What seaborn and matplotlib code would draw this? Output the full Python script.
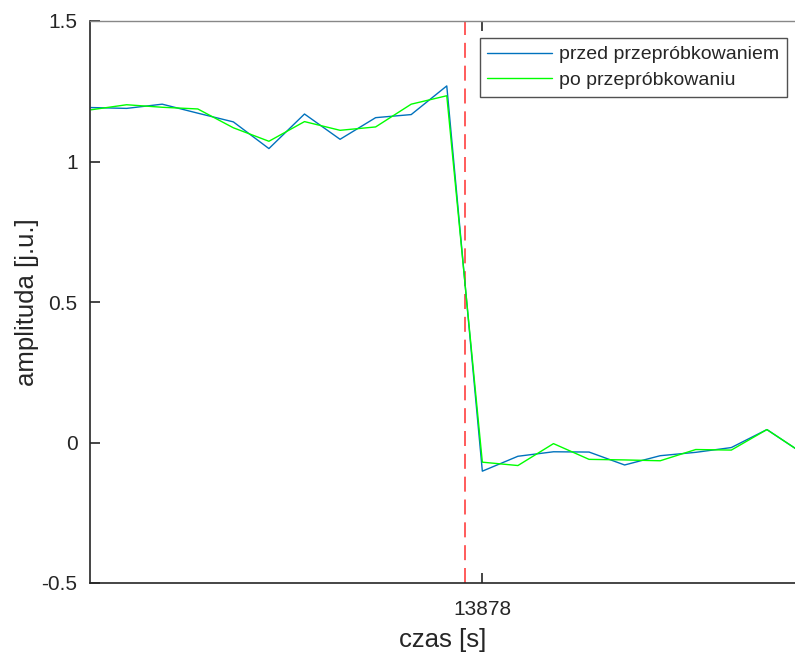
import numpy as np
import pandas as pd
import matplotlib
matplotlib.use("Agg")
import matplotlib.pyplot as plt
import seaborn as sns

# ---- data ----
time_s = list(range(13867, 13888))
before = [1.192, 1.189, 1.204, 1.172, 1.141, 1.046, 1.169, 1.079, 1.156, 1.167, 1.269,
          -0.102, -0.049, -0.033, -0.034, -0.080, -0.047, -0.035, -0.018, 0.046, -0.038]
after = [1.184, 1.202, 1.193, 1.187, 1.120, 1.072, 1.142, 1.111, 1.123, 1.204, 1.234,
         -0.070, -0.082, -0.004, -0.060, -0.062, -0.065, -0.025, -0.027, 0.046, -0.038]
series_names = ["przed przepróbkowaniem", "po przepróbkowaniu"]
marker_time = 13877.5
x_ticks = [13878]
y_ticks = [-0.5, 0, 0.5, 1, 1.5]
y_tick_labels = ["-0.5", "0", "0.5", "1", "1.5"]

df = pd.DataFrame({
    "czas": time_s * 2,
    "amplituda": before + after,
    "seria": [series_names[0]] * len(time_s) + [series_names[1]] * len(time_s),
})

sns.set_theme(style="white")
plt.rcParams["font.family"] = ["Liberation Sans", "DejaVu Sans"]

W, H = 795, 656
fig = plt.figure(figsize=(W / 100, H / 100), dpi=100)
ax = fig.add_axes([90 / W, (H - 583) / H, (W - 90) / W, (583 - 21) / H])

sns.lineplot(data=df, x="czas", y="amplituda", hue="seria",
             palette={series_names[0]: "#0072BD", series_names[1]: "#00FF00"},
             linewidth=1.0, ax=ax, legend=True, sort=False)

ax.axvline(marker_time, color="#FF4040", linestyle=(0, (9, 4.7)), linewidth=1.2, zorder=1)

ax.set_xlim(13866.97, 13886.79)
ax.set_ylim(-0.5, 1.5)
ax.set_xticks(x_ticks)
ax.set_xticklabels([str(t) for t in x_ticks])
ax.set_yticks(y_ticks)
ax.set_yticklabels(y_tick_labels)

for side in ["left", "bottom"]:
    ax.spines[side].set_color("#262626")
    ax.spines[side].set_linewidth(1.2)
ax.spines["top"].set_color("#888888")
ax.spines["top"].set_linewidth(1.0)
ax.spines["right"].set_visible(False)

ax.tick_params(axis="both", direction="in", length=7, width=1.2, colors="#262626",
               labelsize=15, labelcolor="#262626")
ax.tick_params(axis="x", top=True, bottom=True, pad=12)
ax.tick_params(axis="y", left=True, right=False, pad=9)

ax.set_xlabel("czas [s]", fontsize=18.5, color="#262626", labelpad=7)
ax.set_ylabel("amplituda [j.u.]", fontsize=18.5, color="#262626", labelpad=2)

leg = ax.legend(loc="upper right", bbox_to_anchor=(787 / W, 1 - 38 / H),
                bbox_transform=fig.transFigure, fontsize=14, frameon=True,
                fancybox=False, edgecolor="#262626", handlelength=3.35,
                handletextpad=0.34, borderpad=0.4, labelspacing=0.4,
                borderaxespad=0, title=None)
leg.get_frame().set_linewidth(1.0)
for line in leg.get_lines():
    line.set_linewidth(1.0)

fig.savefig("out.png", dpi=100)
